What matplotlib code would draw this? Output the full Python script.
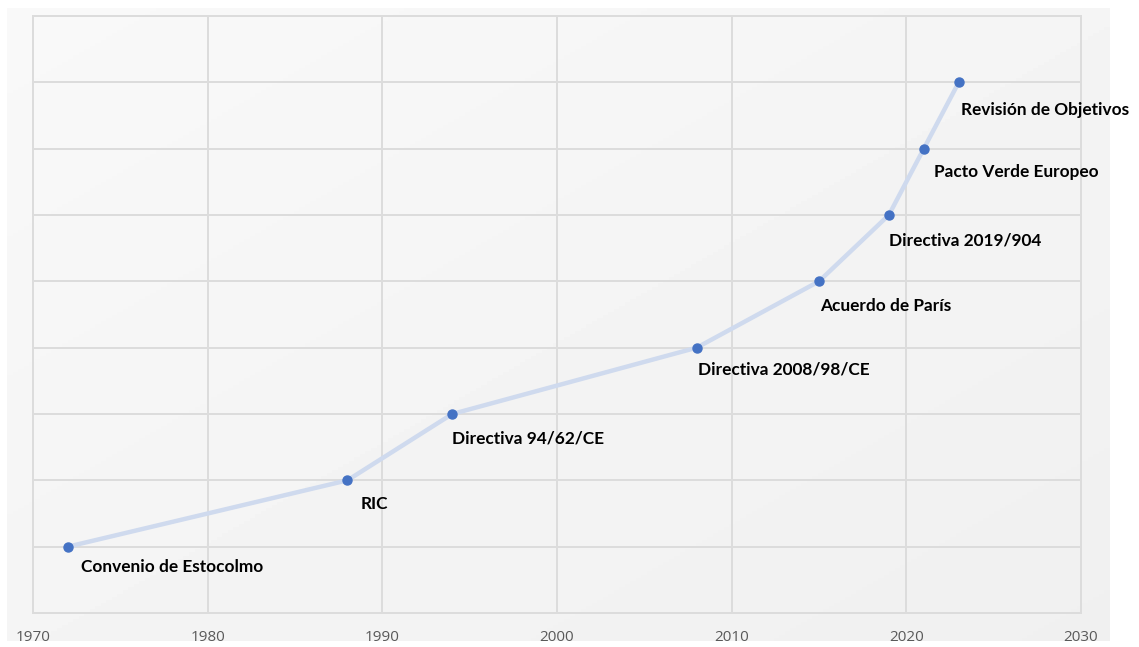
import numpy as np
import matplotlib.pyplot as plt

# Milestones: year and step on the timeline
years = [1972, 1988, 1994, 2008, 2015, 2019, 2021, 2023]
steps = [1, 2, 3, 4, 5, 6, 7, 8]
labels = ['Convenio de Estocolmo', 'RIC', 'Directiva 94/62/CE',
          'Directiva 2008/98/CE', 'Acuerdo de París', 'Directiva 2019/904',
          'Pacto Verde Europeo', 'Revisión de Objetivos']
xticks = [1970, 1980, 1990, 2000, 2010, 2020, 2030]

# label placement relative to each point (pixels right, pixels down)
label_offsets = [(13, 20), (13, 24), (0, 24), (1, 22), (1, 25), (0, 25), (10, 23), (2, 28)]

fig = plt.figure(figsize=(11.39, 6.47), dpi=100)
fig.patch.set_facecolor('white')

# soft grey gradient panel behind the chart
bg = fig.add_axes([7 / 1139, 1 - 641 / 647, (1110 - 7) / 1139, (641 - 8) / 647])
gx, gy = np.meshgrid(np.linspace(0, 1, 200), np.linspace(0, 1, 200))
grad = 0.975 - 0.035 * (gx + gy) / 2
bg.imshow(grad, cmap='gray', vmin=0, vmax=1, aspect='auto', extent=[0, 1, 0, 1])
bg.axis('off')

ax = fig.add_axes([33 / 1139, 1 - 613 / 647, (1081 - 33) / 1139, (613 - 16) / 647])
ax.patch.set_alpha(0)
ax.set_xlim(1970, 2030)
ax.set_ylim(0, 9)
ax.set_xticks(xticks)
ax.set_yticks(range(0, 10))
ax.set_yticklabels([])
ax.grid(True, color='#dcdcdc', linewidth=1.4)
ax.tick_params(length=0, labelsize=11, labelcolor='#595959', pad=12)
for lab in ax.get_xticklabels():
    lab.set_fontfamily('Open Sans')
for s in ax.spines.values():
    s.set_color('#dcdcdc')
    s.set_linewidth(1.4)

ax.plot(years, steps, color='#cfdaee', linewidth=3.2, solid_capstyle='round', zorder=2)
ax.plot(years, steps, 'o', color='#4472c4', markersize=6.5, zorder=3)

for x, y, t, (dx, dy) in zip(years, steps, labels, label_offsets):
    ax.annotate(t, (x, y), xytext=(dx * 0.72, -dy * 0.72), textcoords='offset points',
                ha='left', va='center', fontsize=12.4, fontweight='bold',
                family='Lato', color='black')

fig.savefig('out.png', dpi=100)
